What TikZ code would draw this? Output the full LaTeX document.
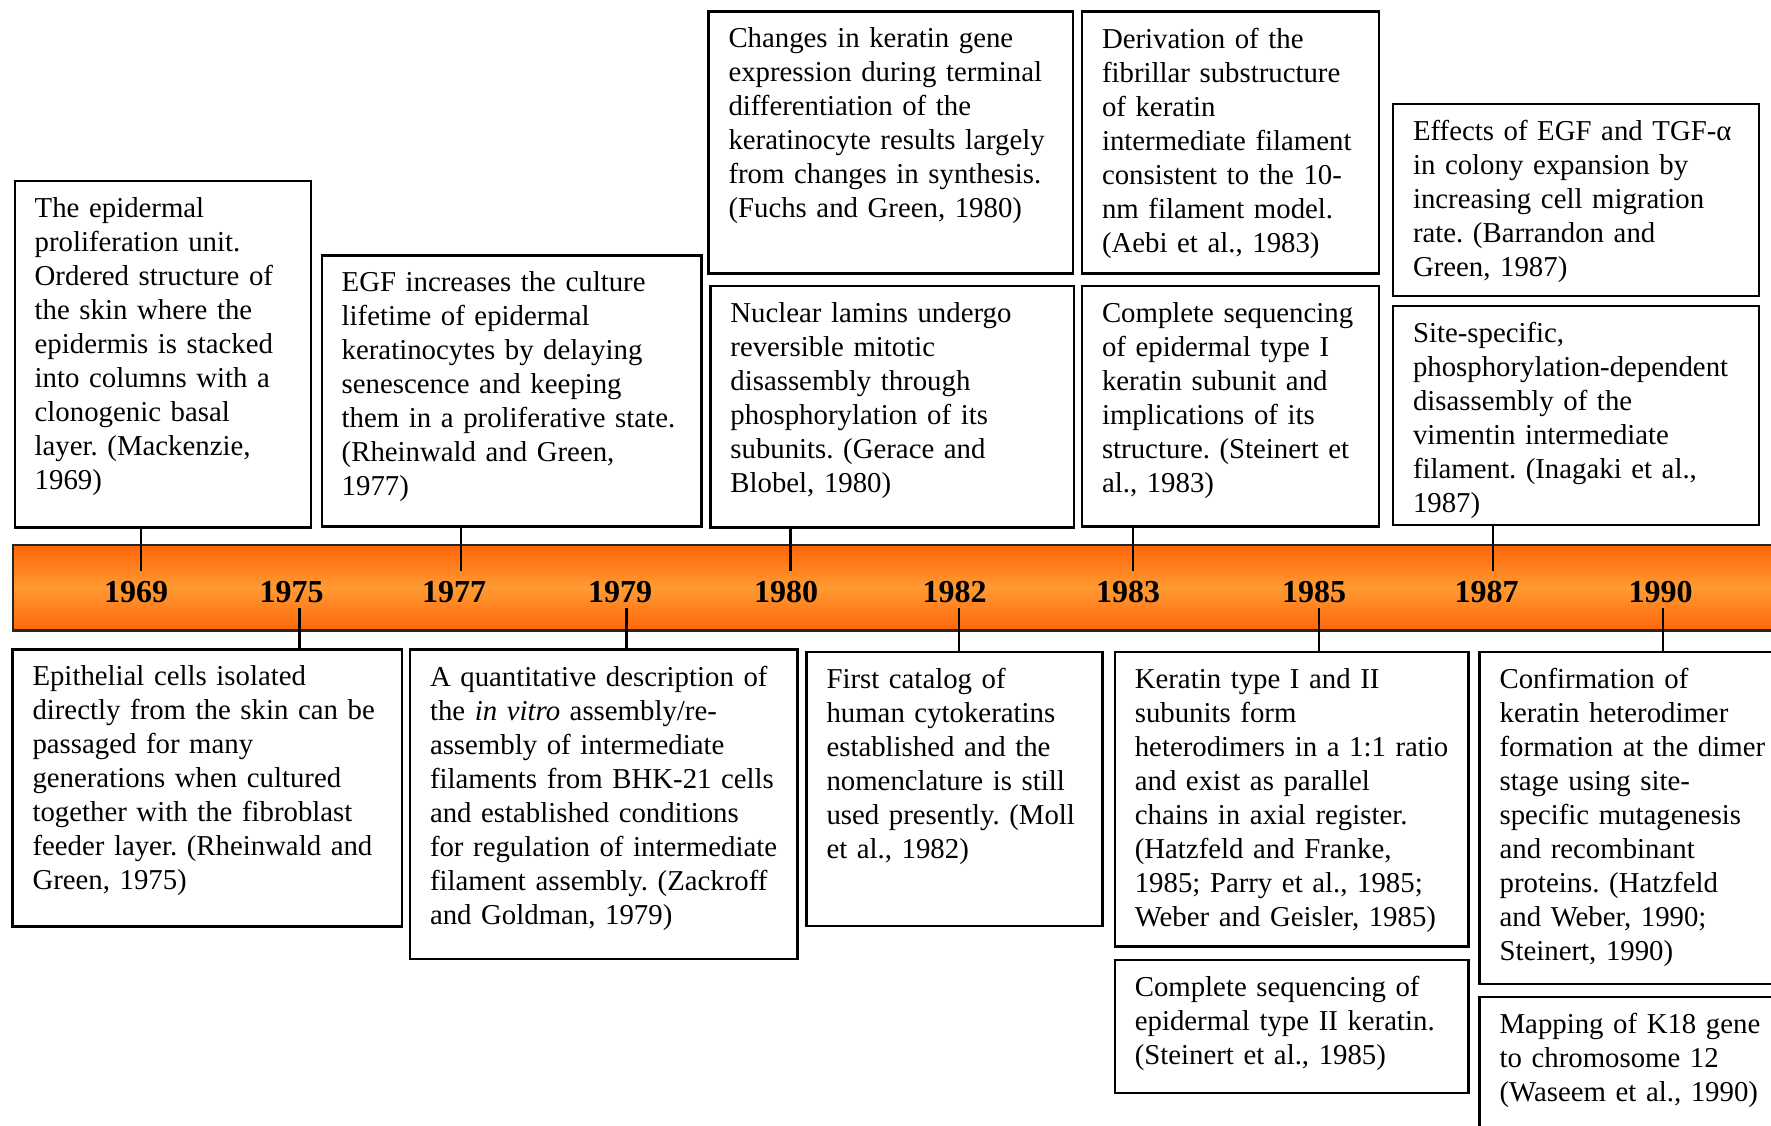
\documentclass[tikz,border=0pt]{standalone}
\usepackage{fontspec}
\setmainfont{Liberation Serif}
\frenchspacing
\definecolor{barorange}{HTML}{FF6608}
\definecolor{barlight}{HTML}{FF9A33}
\tikzset{
  evbox/.style={draw=black, line width=2.4pt, outer sep=0pt, inner sep=0pt, rectangle},
  evtext/.style={inner sep=0pt, outer sep=0pt, text width=430pt, align=left,
    font=\fontsize{28.8}{34}\selectfont\frenchspacing},
  yearlbl/.style={inner sep=0pt, font=\fontsize{32}{36}\selectfont\bfseries},
  tickline/.style={draw=black, line width=2.4pt},
}
\newcommand\tlbox[6]{%
  \node[evbox, minimum width={#4-#2}, minimum height={#5-#3}, anchor=north west] (#1) at (#2,#3) {};
  \node[evtext, anchor=north west] (#1t) at ([xshift=20pt,yshift=-16.5pt]#1.north west) {#6};
}
\begin{document}
\begin{tikzpicture}[x=1pt,y=-1pt]
\useasboundingbox[fill=white] (0,0) rectangle (1771,1125);

% timeline bar
\node[draw=black!85, line width=2.2pt, outer sep=0pt, inner sep=0pt,
  minimum width=1790pt, minimum height=85.5pt, anchor=north west,
  shade, top color=barorange, bottom color=barorange, middle color=barlight] (bar) at (12.7,545) {};

% years
\node[yearlbl, anchor=base] (y1969) at (136,602) {1969};
\node[yearlbl, anchor=base] (y1975) at (291.5,602) {1975};
\node[yearlbl, anchor=base] (y1977) at (454,602) {1977};
\node[yearlbl, anchor=base] (y1979) at (620,602) {1979};
\node[yearlbl, anchor=base] (y1980) at (786,602) {1980};
\node[yearlbl, anchor=base] (y1982) at (954.5,602) {1982};
\node[yearlbl, anchor=base] (y1983) at (1128,602) {1983};
\node[yearlbl, anchor=base] (y1985) at (1314,602) {1985};
\node[yearlbl, anchor=base] (y1987) at (1486.5,602) {1987};
\node[yearlbl, anchor=base] (y1990) at (1660.5,602) {1990};

% upper boxes
\tlbox{A}{14.7}{181}{310.7}{527.5}{The epidermal\\proliferation unit.\\Ordered structure of\\the skin where the\\epidermis is stacked\\into columns with a\\clonogenic basal\\layer. (Mackenzie,\\1969)}
\tlbox{B}{321.7}{255.5}{701.5}{526.5}{EGF increases the culture\\lifetime of epidermal\\keratinocytes by delaying\\senescence and keeping\\them in a proliferative state.\\(Rheinwald and Green,\\1977)}
\tlbox{C}{708.5}{11.3}{1073}{273.3}{Changes in keratin gene\\expression during terminal\\differentiation of the\\keratinocyte results largely\\from changes in synthesis.\\(Fuchs and Green, 1980)}
\tlbox{D}{710.4}{285.8}{1074}{527.5}{Nuclear lamins undergo\\reversible mitotic\\disassembly through\\phosphorylation of its\\subunits. (Gerace and\\Blobel, 1980)}
\tlbox{E}{1082}{11.3}{1379}{273.3}{Derivation of the\\fibrillar substructure\\of keratin\\intermediate filament\\consistent to the 10-\\nm filament model.\\(Aebi et al., 1983)}
\tlbox{F}{1082}{285.8}{1379}{526.5}{Complete sequencing\\of epidermal type I\\keratin subunit and\\implications of its\\structure. (Steinert et\\al., 1983)}
\tlbox{G}{1393}{104}{1759}{296}{Effects of EGF and TGF-α\\in colony expansion by\\increasing cell migration\\rate. (Barrandon and\\Green, 1987)}
\tlbox{H}{1393}{306}{1759}{525}{Site-specific,\\phosphorylation-dependent\\disassembly of the\\vimentin intermediate\\filament. (Inagaki et al.,\\1987)}

% lower boxes
\tlbox{I}{12.5}{649.5}{402}{926.5}{Epithelial cells isolated\\directly from the skin can be\\passaged for many\\generations when cultured\\together with the fibroblast\\feeder layer. (Rheinwald and\\Green, 1975)}
\tlbox{J}{410}{649.5}{797.5}{959}{A quantitative description of\\the \textit{in vitro} assembly/re-\\assembly of intermediate\\filaments from BHK-21 cells\\and established conditions\\for regulation of intermediate\\filament assembly. (Zackroff\\and Goldman, 1979)}
\tlbox{K}{806.5}{651.7}{1102.4}{926.2}{First catalog of\\human cytokeratins\\established and the\\nomenclature is still\\used presently. (Moll\\et al., 1982)}
\tlbox{L}{1114.8}{651.7}{1468.3}{946.5}{Keratin type I and II\\subunits form\\heterodimers in a 1:1 ratio\\and exist as parallel\\chains in axial register.\\(Hatzfeld and Franke,\\1985; Parry et al., 1985;\\Weber and Geisler, 1985)}
\tlbox{M}{1114.8}{960}{1468.3}{1093}{Complete sequencing of\\epidermal type II keratin.\\(Steinert et al., 1985)}
\tlbox{N}{1479.6}{651.7}{1795}{984}{Confirmation of\\keratin heterodimer\\formation at the dimer\\stage using site-\\specific mutagenesis\\and recombinant\\proteins. (Hatzfeld\\and Weber, 1990;\\Steinert, 1990)}
\tlbox{O}{1479.6}{997}{1795}{1145}{Mapping of K18 gene\\to chromosome 12\\(Waseem et al., 1990)}

% tick end points on the bar
\coordinate (t1969) at (141,571);
\coordinate (t1977) at (461,571);
\coordinate (t1980) at (790.6,571);
\coordinate (t1983) at (1133,571);
\coordinate (t1987) at (1493,571);
\coordinate (b1975) at (299.3,608);
\coordinate (b1979) at (626.6,608);
\coordinate (b1982) at (959,608);
\coordinate (b1985) at (1319,608);
\coordinate (b1990) at (1662.7,608);

% connectors
\draw[tickline] (A.south -| t1969) -- (t1969);
\draw[tickline] (B.south -| t1977) -- (t1977);
\draw[tickline] (D.south -| t1980) -- (t1980);
\draw[tickline] (F.south -| t1983) -- (t1983);
\draw[tickline] (H.south -| t1987) -- (t1987);
\draw[tickline] (b1975) -- (I.north -| b1975);
\draw[tickline] (b1979) -- (J.north -| b1979);
\draw[tickline] (b1982) -- (K.north -| b1982);
\draw[tickline] (b1985) -- (L.north -| b1985);
\draw[tickline] (b1990) -- (N.north -| b1990);
\end{tikzpicture}
\end{document}
